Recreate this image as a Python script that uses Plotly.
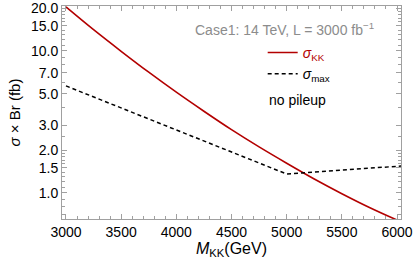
import math
import plotly.graph_objects as go

# ---- data ----
m_kk = [3000, 3250, 3500, 3750, 4000, 4250, 4500, 4750, 5000, 5250, 5500, 5750, 6000]
sigma_kk = [20.4, 14.1, 9.94, 7.08, 5.12, 3.76, 2.79, 2.11, 1.62, 1.255, 0.989, 0.791, 0.645]

m_max = [3000, 3500, 4000, 4500, 5000, 5500, 6000, 6050]
sigma_max = [5.67, 3.97, 2.78, 1.95, 1.36, 1.45, 1.54, 1.55]

x_ticks = [3000, 3500, 4000, 4500, 5000, 5500, 6000]
y_ticks = [1.0, 1.5, 2.0, 3.0, 5.0, 7.0, 10.0, 15.0, 20.0]
y_ticktext = ["1.0", "1.5", "2.0", "3.0", "5.0", "7.0", "10.0", "15.0", "20.0"]
y_minor = [0.7, 0.8, 0.9, 1.1, 1.2, 1.3, 1.4, 1.6, 1.7, 1.8, 1.9, 2.5, 4.0, 6.0, 8.0, 9.0,
           11, 12, 13, 14, 16, 17, 18, 19]
x_minor = list(range(3000, 6001, 100))

FONT = "Liberation Sans, Arial, sans-serif"
RED = "#b30000"
GREY = "#a0a0a0"

fig = go.Figure()
fig.add_trace(go.Scatter(
    x=m_kk, y=sigma_kk, mode="lines", line=dict(color=RED, width=1.6, shape="spline"),
    name="<span style='color:#b30000'><i>σ</i><sub>KK</sub></span>"))
fig.add_trace(go.Scatter(
    x=m_max, y=sigma_max, mode="lines", line=dict(color="black", width=1.5, dash="4px,3px"),
    name="<i>σ</i><sub>max</sub>"))

fig.update_layout(
    width=415, height=265,
    margin=dict(l=62, r=14, t=6, b=46),
    paper_bgcolor="white", plot_bgcolor="white",
    font=dict(family=FONT, size=14, color="black"),
    showlegend=True,
    legend=dict(x=0.592, y=0.855, xanchor="left", yanchor="top", bgcolor="rgba(0,0,0,0)",
                font=dict(size=14), itemwidth=30, tracegroupgap=0),
    xaxis=dict(
        range=[2964, 6036], showgrid=False, zeroline=False, automargin=False,
        showline=True, linecolor=GREY, linewidth=1, mirror="allticks",
        ticks="inside", ticklen=5, tickcolor=GREY, tickwidth=1,
        tickvals=x_ticks, ticktext=[str(v) for v in x_ticks],
        tickfont=dict(size=14),
        minor=dict(tickvals=x_minor, ticks="inside", ticklen=3, tickcolor=GREY, showgrid=False),
        title=dict(text="<i>M</i><sub>KK</sub>(GeV)", font=dict(size=16), standoff=2),
    ),
    yaxis=dict(
        type="log", range=[math.log10(0.656), math.log10(20.7)], showgrid=False, zeroline=False,
        automargin=False,
        showline=True, linecolor=GREY, linewidth=1, mirror="allticks",
        ticks="inside", ticklen=5, tickcolor=GREY, tickwidth=1,
        tickvals=y_ticks, ticktext=y_ticktext,
        tickfont=dict(size=14),
        minor=dict(tickvals=y_minor, ticks="inside", ticklen=3, tickcolor=GREY, showgrid=False),
        title=dict(text="<i>σ</i> × Br (fb)", font=dict(size=15), standoff=6),
    ),
    annotations=[
        dict(text="Case1: 14 TeV, L = 3000 fb<sup>−1</sup>", xref="paper", yref="paper",
             x=(284 - 62) / 339, y=0.893, xanchor="center", yanchor="middle", showarrow=False,
             font=dict(size=14, color="#8c8c8c")),
        dict(text="no pileup", xref="paper", yref="paper",
             x=(297 - 62) / 339, y=0.559, xanchor="center", yanchor="middle", showarrow=False,
             font=dict(size=14, color="black")),
    ],
)

fig.write_html("out.html", post_script="document.body.style.margin='0';",
               config={"displayModeBar": False})
